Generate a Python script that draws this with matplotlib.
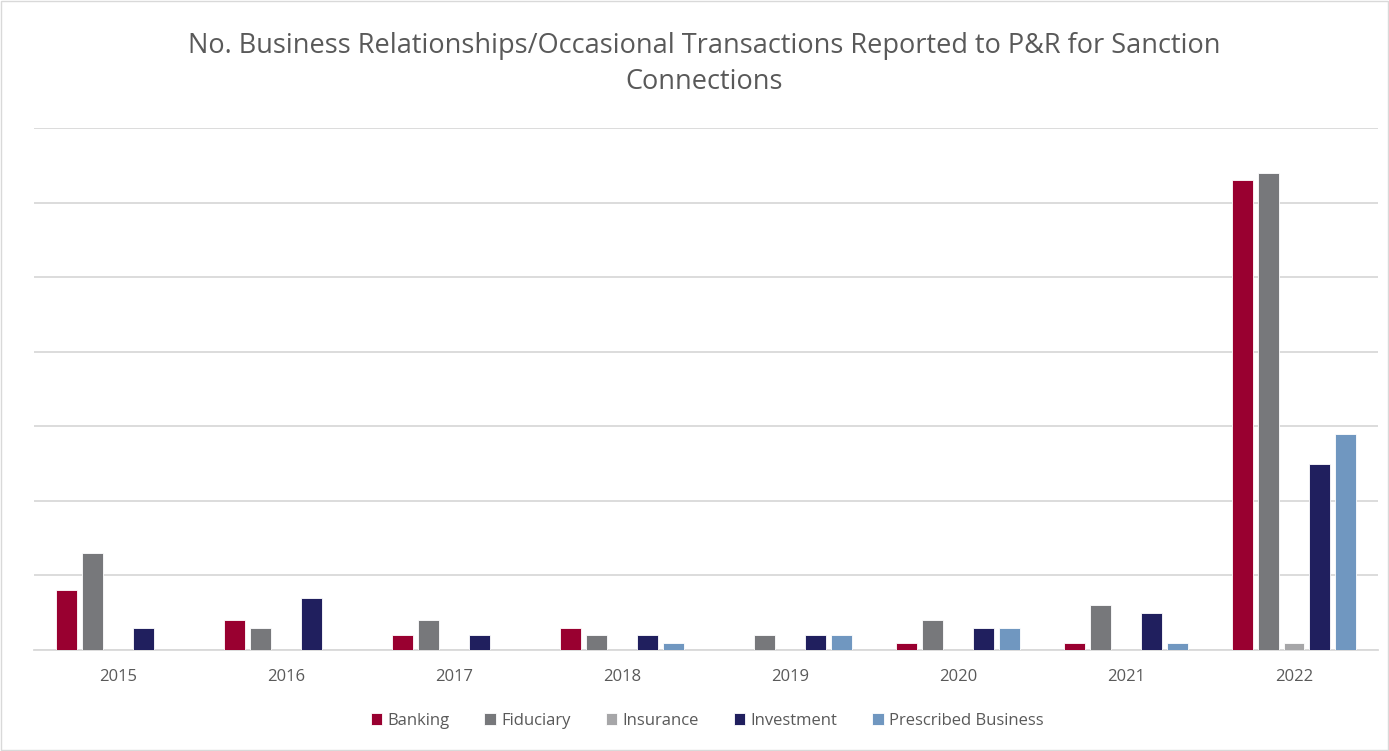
import numpy as np
import matplotlib.pyplot as plt
from matplotlib.patches import Rectangle

# 数据
years = ['2015', '2016', '2017', '2018', '2019', '2020', '2021', '2022']
banking = [8, 4, 2, 3, 0, 1, 1, 63]
fiduciary = [13, 3, 4, 2, 2, 4, 6, 64]
insurance = [0, 0, 0, 0, 0, 0, 0, 1]
investment = [3, 7, 2, 2, 2, 3, 5, 25]
prescribed = [0, 0, 0, 1, 2, 3, 1, 29]

series_names = ['Banking', 'Fiduciary', 'Insurance', 'Investment', 'Prescribed Business']
series_values = [banking, fiduciary, insurance, investment, prescribed]
colors = ['#990030', '#77787b', '#a6a6a8', '#201f5e', '#7097c0']

plt.rcParams['font.family'] = ['Open Sans', 'DejaVu Sans']
text_color = '#595959'

fig = plt.figure(figsize=(13.89, 7.51), dpi=100)
ax = fig.add_axes([34 / 1389, 1 - 650 / 751, 1344 / 1389, (650 - 128) / 751])

x = np.arange(len(years))
step = 0.1536
width = 0.123
for i, (name, vals) in enumerate(zip(series_names, series_values)):
    ax.bar(x + (i - 2) * step, vals, width, color=colors[i], label=name,
           edgecolor='white', linewidth=0.6, zorder=3)

ax.set_xlim(-0.5, len(years) - 0.5)
ax.set_ylim(0, 70)
ax.set_yticks(np.arange(0, 71, 10))
ax.yaxis.grid(True, color='#d9d9d9', linewidth=1.3, zorder=0)
ax.tick_params(axis='y', left=False, labelleft=False)
ax.tick_params(axis='x', length=0, pad=14, labelsize=12, labelcolor=text_color)
ax.set_xticks(x)
ax.set_xticklabels(years)
for s in ['top', 'right', 'left']:
    ax.spines[s].set_visible(False)
ax.spines['bottom'].set_color('#d9d9d9')
ax.spines['bottom'].set_linewidth(1.3)

fig.text(0.507, 1 - 64 / 751,
         'No. Business Relationships/Occasional Transactions Reported to P&R for Sanction\nConnections',
         ha='center', va='center', fontsize=19.5, color=text_color, linespacing=1.4)

fig.legend(loc='center', bbox_to_anchor=(0.509, 1 - 721 / 751), ncol=5, frameon=False,
           fontsize=12, labelcolor=text_color, handlelength=0.7, handleheight=0.7,
           handletextpad=0.3, columnspacing=2.1)

# 外边框
fig.patches.append(Rectangle((0.001, 0.001), 0.998, 0.998, transform=fig.transFigure,
                             fill=False, edgecolor='#d9d9d9', linewidth=1))

fig.savefig('out.png', dpi=100)
